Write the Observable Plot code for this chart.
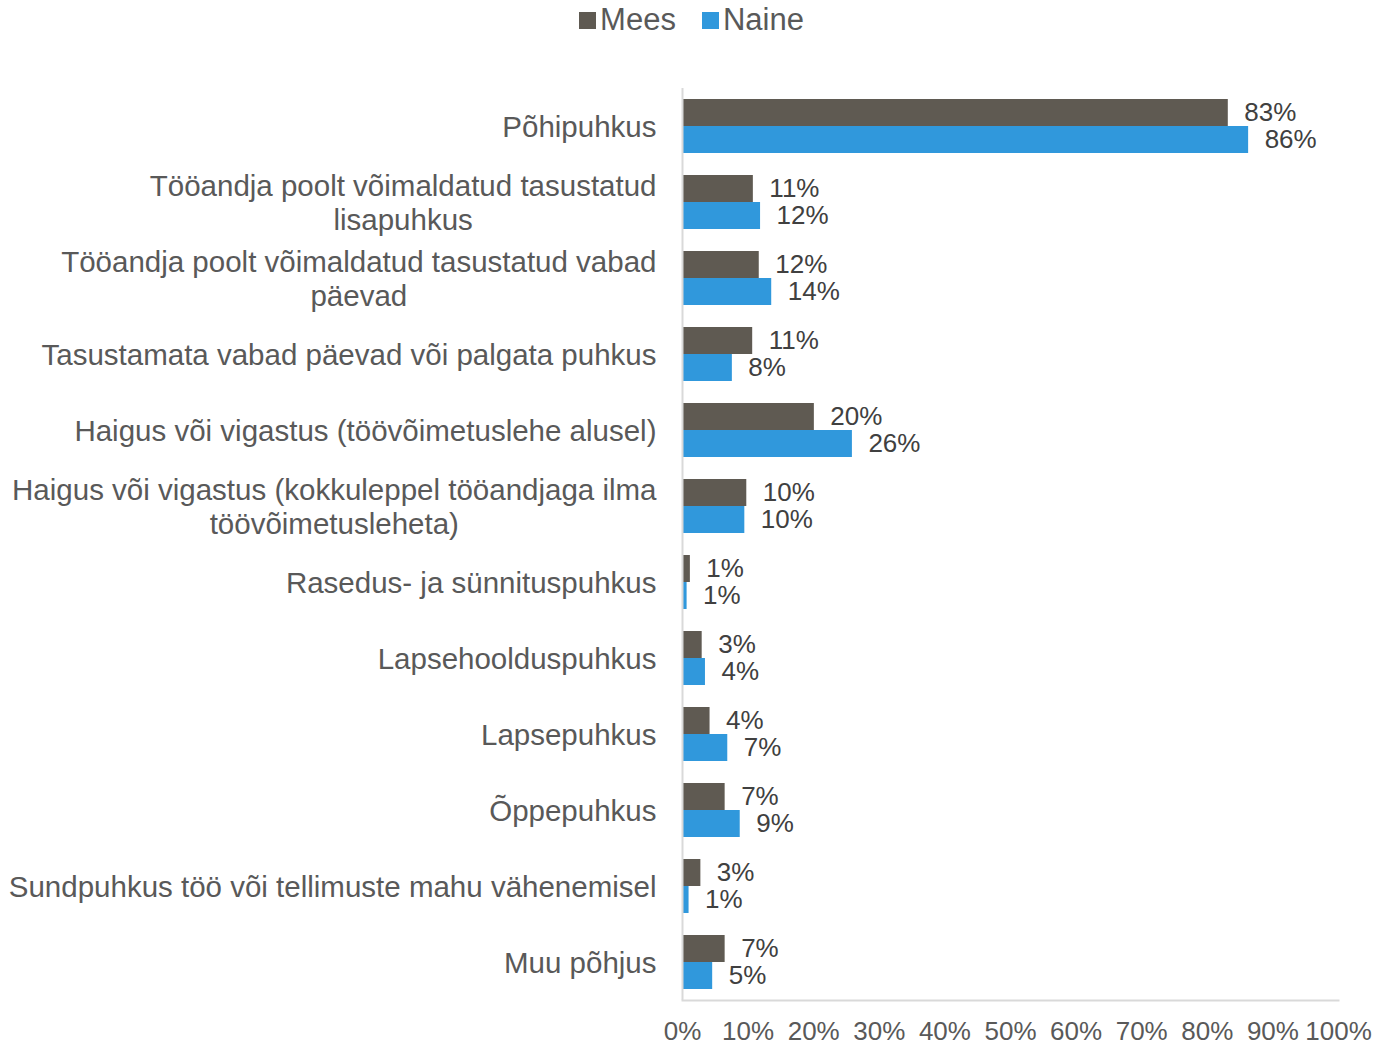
<!DOCTYPE html>
<html>
<head>
<meta charset="utf-8">
<script src="https://cdn.jsdelivr.net/npm/d3@7"></script>
<script src="https://cdn.jsdelivr.net/npm/@observablehq/plot@0.6"></script>
<style>
  body { margin: 0; background: white; font-family: "Liberation Sans", Arial, sans-serif; }
  #wrap { position: relative; width: 1383px; height: 1044px; }
  #legend { position: absolute; top: 0; left: 0; width: 1383px; height: 40px; display: flex; justify-content: center; align-items: center; gap: 26px; font-size: 31px; color: #595959; z-index: 2; }
  .item { display: flex; align-items: center; }
  .sw { width: 17px; height: 17px; margin-right: 4px; display: inline-block; }
</style>
</head>
<body>
<div id="wrap">
  <div id="legend"></div>
  <div id="chart"></div>
</div>
<script>
const categories = [
  "Põhipuhkus",
  "Tööandja poolt võimaldatud tasustatud\nlisapuhkus",
  "Tööandja poolt võimaldatud tasustatud vabad\npäevad",
  "Tasustamata vabad päevad või palgata puhkus",
  "Haigus või vigastus (töövõimetuslehe alusel)",
  "Haigus või vigastus (kokkuleppel tööandjaga ilma\ntöövõimetusleheta)",
  "Rasedus- ja sünnituspuhkus",
  "Lapsehoolduspuhkus",
  "Lapsepuhkus",
  "Õppepuhkus",
  "Sundpuhkus töö või tellimuste mahu vähenemisel",
  "Muu põhjus"
];
const series = ["Mees", "Naine"];
const colors = ["#5f5a52", "#3098dc"];
const mees  = [83.2, 10.8, 11.7, 10.7, 20.1, 9.8, 1.2, 3.0, 4.2, 6.5, 2.8, 6.5];
const naine = [86.3, 11.9, 13.6, 7.6, 25.9, 9.5, 0.7, 3.5, 6.9, 8.8, 1.0, 4.6];
const xTicks = [0, 10, 20, 30, 40, 50, 60, 70, 80, 90, 100];

const rows = [];
categories.forEach((c, i) => {
  rows.push({cat: c, sex: "Mees", value: mees[i]});
  rows.push({cat: c, sex: "Naine", value: naine[i]});
});

// legend
const legend = document.getElementById("legend");
series.forEach((s, i) => {
  const it = document.createElement("div");
  it.className = "item";
  const sw = document.createElement("span");
  sw.className = "sw";
  sw.style.background = colors[i];
  const t = document.createElement("span");
  t.textContent = s;
  it.appendChild(sw); it.appendChild(t);
  legend.appendChild(it);
});

const chart = Plot.plot({
  width: 1383,
  height: 1044,
  marginLeft: 682,
  marginRight: 45,
  marginTop: 88,
  marginBottom: 44,
  style: {fontFamily: "'Liberation Sans', Arial, sans-serif", fontSize: "26px", color: "#595959", background: "white", overflow: "visible"},
  x: {domain: [0, 100]},
  fy: {domain: categories, padding: 0},
  y: {domain: series, paddingInner: 0, paddingOuter: 11 / 27, axis: null},
  color: {domain: series, range: colors},
  marks: [
    Plot.barX(rows, {x: "value", y: "sex", fy: "cat", fill: "sex"}),
    Plot.ruleX([0], {stroke: "#d9d9d9", strokeWidth: 2}),
    Plot.frame({anchor: "bottom", facetAnchor: "bottom", stroke: "#d9d9d9", strokeWidth: 2}),
    Plot.text(rows, {x: "value", y: "sex", fy: "cat", text: d => Math.round(d.value) + "%", textAnchor: "start", dx: 16, fill: "#404040", fontSize: 26}),
    Plot.axisX({ticks: xTicks, tickFormat: d => d + "%", tickSize: 0, tickPadding: 21, fontSize: 26, label: null, fill: "#595959"}),
    Plot.axisFy({anchor: "left", tickSize: 0, tickPadding: 26, fontSize: 29.5, label: null, lineHeight: 34 / 29.5, fill: "#595959"})
  ]
});
document.getElementById("chart").appendChild(chart);

// center multi-line category labels on their widest line
chart.querySelectorAll("text").forEach(t => {
  const spans = t.querySelectorAll("tspan");
  if (spans.length > 1) {
    let w = 0;
    spans.forEach(s => { w = Math.max(w, s.getComputedTextLength()); });
    t.setAttribute("text-anchor", "middle");
    const tr = t.getAttribute("transform") || "";
    t.setAttribute("transform", tr + ` translate(${-w / 2},0)`);
  }
});
</script>
</body>
</html>
